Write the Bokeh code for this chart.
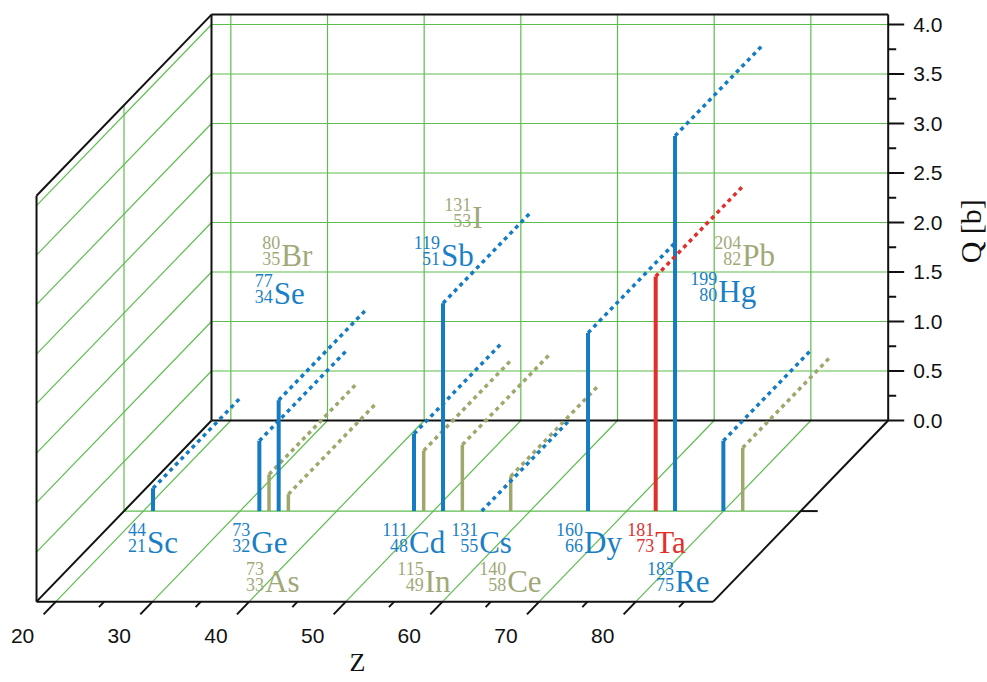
import numpy as np
from bokeh.plotting import figure
from bokeh.models import Range1d, ColumnDataSource
from bokeh.embed import file_html
from bokeh.resources import INLINE
from bokeh.core.properties import value

# ---------------- data ----------------
symbols = ["Sc", "Ge", "As", "Se", "Br", "Cd", "In", "Sb", "I", "Cs", "Ce", "Dy", "Ta", "Re", "Hg", "Pb"]
mass_numbers = [44, 73, 73, 77, 80, 111, 115, 119, 131, 131, 140, 160, 181, 183, 199, 204]
atomic_numbers = [21, 32, 33, 34, 35, 48, 49, 51, 53, 55, 58, 66, 73, 75, 80, 82]
quadrupole_b = [0.23, 0.71, 0.37, 1.12, 0.17, 0.78, 0.61, 2.10, 0.67, 0.0, 0.35, 1.80, 2.37, 3.79, 0.71, 0.64]
series = ["blue", "blue", "olive", "blue", "olive", "blue", "olive", "blue", "olive",
          "blue", "olive", "blue", "red", "blue", "blue", "olive"]

z_major_ticks = [20, 30, 40, 50, 60, 70, 80]
z_minor_ticks = [25, 35, 45, 55, 65, 75, 85]
q_major_ticks = [0.0, 0.5, 1.0, 1.5, 2.0, 2.5, 3.0, 3.5, 4.0]
q_minor_ticks = [0.25, 0.75, 1.25, 1.75, 2.25, 2.75, 3.25, 3.75]
q_tick_labels = ["0.0", "0.5", "1.0", "1.5", "2.0", "2.5", "3.0", "3.5", "4.0"]

# label placement (annotation layout): row of each isotope label, horizontal nudge in px
label_row = ["low", "low", "lower", "up3", "up2", "low", "lower", "up2", "up1", "low",
             "lower", "low", "low", "lower", "up3b", "up2"]
label_nudge_px = [-6, -8, -4, -5, -7, -5, 1, -2, 10, -2.5, -3.5, -4, -0.5, 0, -5, -0.5]

# ---------------- geometry ----------------
Z_MIN, Z_MAX = 18.0, 88.0
Q_TOP = 4.1
SX, SY = 9.667, 99.0            # px per unit
DZ, DQ = -18.1, -1.83           # oblique depth vector (d = 0 back, 1 front)
STEM_D = 0.5

row_baseline_px = {"low": 542, "lower": 581, "up1": 217, "up2": 255, "up3": 293, "up3b": 291}


def proj(z, q, d):
    z = np.asarray(z, dtype=float)
    q = np.asarray(q, dtype=float)
    d = np.asarray(d, dtype=float)
    return z + DZ * d, q + DQ * d


def ypx(py):
    return (420 - py) / SY


W, H = 987, 682
p = figure(width=W, height=H, output_backend="svg", toolbar_location=None,
           x_range=Range1d(Z_MIN - 211 / SX, Z_MIN + (W - 211) / SX),
           y_range=Range1d((420 - H) / SY, 420 / SY),
           x_axis_type=None, y_axis_type=None, min_border=0,
           outline_line_color=None, background_fill_color="white")
p.grid.visible = False

GREEN = "#5cbd4e"
BLACK = "#111111"
COL = {"blue": "#157bc2", "olive": "#9ea86c", "red": "#e0302c"}
TXT = {"blue": "#1a7fc4", "olive": "#9fa978", "red": "#e0302c"}

# ---------------- grids ----------------
gx, gy = [], []
for z in z_major_ticks:                      # back plane verticals
    a = proj([z, z], [0, Q_TOP], [0, 0]); gx.append(list(a[0])); gy.append(list(a[1]))
for q in q_major_ticks[1:]:                  # back plane horizontals
    a = proj([Z_MIN, Z_MAX], [q, q], [0, 0]); gx.append(list(a[0])); gy.append(list(a[1]))
for z in z_major_ticks:                      # floor depth lines
    a = proj([z, z], [0, 0], [0, 1]); gx.append(list(a[0])); gy.append(list(a[1]))
a = proj([Z_MIN, Z_MAX], [0, 0], [STEM_D, STEM_D]); gx.append(list(a[0])); gy.append(list(a[1]))
for q in q_major_ticks[1:]:                  # left wall diagonals
    a = proj([Z_MIN, Z_MIN], [q, q], [1, 0]); gx.append(list(a[0])); gy.append(list(a[1]))
a = proj([Z_MIN, Z_MIN], [0, Q_TOP], [STEM_D, STEM_D]); gx.append(list(a[0])); gy.append(list(a[1]))
p.multi_line(gx, gy, line_color=GREEN, line_width=1.2)

# ---------------- frame ----------------
fx, fy = [], []
edges = [
    ([Z_MIN, Z_MIN], [0, Q_TOP], [0, 0]),
    ([Z_MIN, Z_MAX], [Q_TOP, Q_TOP], [0, 0]),
    ([Z_MAX, Z_MAX], [0, Q_TOP], [0, 0]),
    ([Z_MIN, Z_MAX], [0, 0], [0, 0]),
    ([Z_MIN, Z_MIN], [0, Q_TOP], [1, 1]),
    ([Z_MIN, Z_MIN], [Q_TOP, Q_TOP], [1, 0]),
    ([Z_MIN, Z_MAX], [0, 0], [1, 1]),
    ([Z_MIN, Z_MIN], [0, 0], [0, 1]),
    ([Z_MAX, Z_MAX], [0, 0], [0, 1]),
]
for e in edges:
    a = proj(*e); fx.append(list(a[0])); fy.append(list(a[1]))
a = proj([Z_MAX, Z_MAX + 17 / SX], [0, 0], [STEM_D, STEM_D]); fx.append(list(a[0])); fy.append(list(a[1]))
for q in q_major_ticks:
    fx.append([Z_MAX, Z_MAX + 16 / SX]); fy.append([q, q])
for q in q_minor_ticks:
    fx.append([Z_MAX, Z_MAX + 8 / SX]); fy.append([q, q])
for z in z_major_ticks:
    a = proj([z, z], [0, 0], [1, 1.07]); fx.append(list(a[0])); fy.append(list(a[1]))
for z in z_minor_ticks:
    a = proj([z, z], [0, 0], [1, 1.03]); fx.append(list(a[0])); fy.append(list(a[1]))
p.multi_line(fx, fy, line_color=BLACK, line_width=2)

# ---------------- stems and projections ----------------
for grp, w in (("olive", 3.5), ("blue", 4), ("red", 4)):
    idx = [i for i, s in enumerate(series) if s == grp]
    zz = np.array([atomic_numbers[i] for i in idx], dtype=float)
    qq = np.array([quadrupole_b[i] for i in idx], dtype=float)
    x0, y0 = proj(zz, np.zeros_like(qq), np.full_like(qq, STEM_D))
    x1, y1 = proj(zz, qq, np.full_like(qq, STEM_D))
    x2, y2 = proj(zz, qq, np.zeros_like(qq))
    p.multi_line([[a, b] for a, b in zip(x1, x2)], [[a, b] for a, b in zip(y1, y2)],
                 line_color=COL[grp], line_width=3.5, line_dash="4 4")
    p.segment(x0, y0, x1, y1, line_color=COL[grp], line_width=w)

# ---------------- isotope labels ----------------
stem_x, _ = proj(np.array(atomic_numbers, float), np.zeros(len(symbols)), np.full(len(symbols), STEM_D))
lab_x = stem_x + np.array(label_nudge_px) / SX
lab_y = np.array([ypx(row_baseline_px[r]) for r in label_row])
src = ColumnDataSource(dict(
    x=lab_x, y=lab_y, xn=lab_x - 1 / SX,
    ym=lab_y + 13 / SY, ya=lab_y - 3 / SY,
    sym=symbols, m=[str(v) for v in mass_numbers], zn=[str(v) for v in atomic_numbers],
    c=[TXT[s] for s in series]))
p.text("x", "y", text="sym", source=src, text_color="c", text_font=value("Liberation Serif"),
       text_font_size="31px", text_align="left", text_baseline="alphabetic")
p.text("xn", "ym", text="m", source=src, text_color="c", text_font=value("Liberation Serif"),
       text_font_size="18px", text_align="right", text_baseline="alphabetic")
p.text("xn", "ya", text="zn", source=src, text_color="c", text_font=value("Liberation Serif"),
       text_font_size="18px", text_align="right", text_baseline="alphabetic")

# ---------------- axis labels ----------------
zx, zy = proj(np.array(z_major_ticks, float), np.zeros(len(z_major_ticks)), np.full(len(z_major_ticks), 1.19))
p.text(zx, zy, text=[str(z) for z in z_major_ticks], text_font=value("Liberation Sans"),
       text_font_size="21px", text_align="center", text_baseline="middle", text_color=BLACK)
p.text([Z_MAX + 25 / SX] * len(q_major_ticks), q_major_ticks, text=q_tick_labels,
       text_font=value("Liberation Sans"), text_font_size="21px", text_align="left",
       text_baseline="middle", text_color=BLACK)
p.text([Z_MIN + (357 - 211) / SX], [ypx(662)], text=["Z"], text_font=value("Liberation Serif"),
       text_font_size="26px", text_align="center", text_baseline="middle", text_color=BLACK)
p.text([Z_MIN + (970 - 211) / SX], [ypx(227)], text=["Q  [b]"], text_font=value("Liberation Serif"),
       text_font_size="30px", text_align="center", text_baseline="middle", text_color=BLACK,
       angle=np.pi / 2)

open("out.html", "w").write(file_html(p, INLINE))
